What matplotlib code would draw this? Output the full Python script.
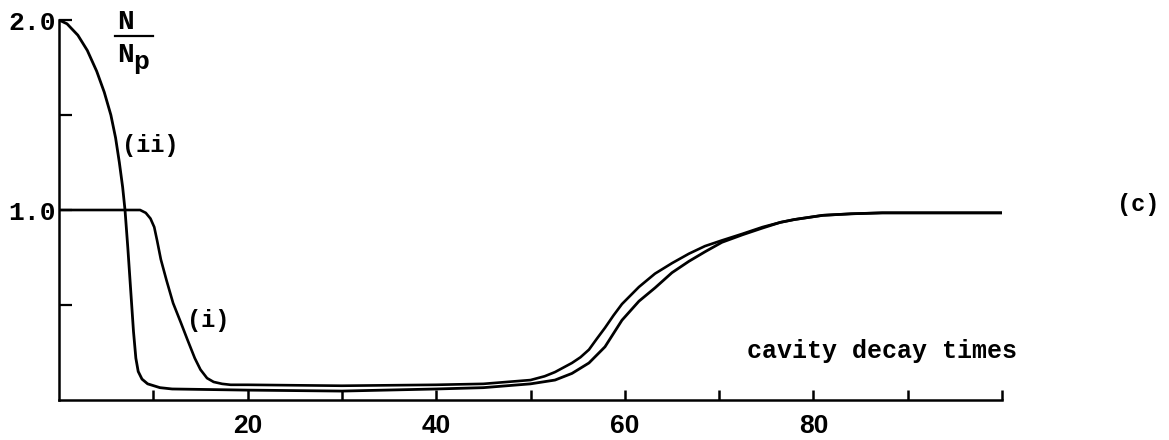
import matplotlib
matplotlib.use('Agg')
import matplotlib.pyplot as plt
from matplotlib.lines import Line2D

# curve (i): starts at steady state 1.0
t_i = [0, 8.6, 9.2, 9.7, 10.1, 10.4, 10.8, 11.4, 12.1, 12.9, 13.6, 14.4, 15.0, 15.7, 16.4, 17.3, 18.2,
       20, 30, 40, 45, 50, 51.5, 52.6, 54.4, 55.3, 56.2, 57.0, 57.9, 58.8, 59.7, 60.6, 61.5, 63.2, 65.0,
       66.8, 68.5, 70.3, 72.5, 74.6, 76.5, 78, 81, 84, 87.3, 100]
n_i = [1.0, 1.0, 0.985, 0.955, 0.91, 0.84, 0.74, 0.63, 0.51, 0.41, 0.32, 0.22, 0.16, 0.115, 0.095, 0.085, 0.08,
       0.08, 0.075, 0.08, 0.085, 0.105, 0.125, 0.147, 0.195, 0.225, 0.265, 0.32, 0.38, 0.445, 0.505, 0.55, 0.595,
       0.665, 0.72, 0.77, 0.81, 0.84, 0.875, 0.91, 0.935, 0.95, 0.972, 0.98, 0.985, 0.985]

# curve (ii): starts at 2.0
t_ii = [0, 0.85, 2.0, 3.0, 4.0, 4.8, 5.5, 6.0, 6.4, 6.75, 7.0, 7.3, 7.6, 7.9, 8.15, 8.4, 8.8, 9.4, 10.7, 12,
        20, 30, 40, 45, 50, 52.6, 54.4, 56.2, 57.9, 58.8, 59.7, 61.5, 63.2, 65.0, 66.8, 68.5,
        70.3, 72.5, 74.6, 76.5, 78, 81, 84, 87.3, 100]
n_ii = [2.0, 1.98, 1.92, 1.84, 1.73, 1.62, 1.50, 1.38, 1.25, 1.12, 1.0, 0.8, 0.58, 0.36, 0.22, 0.15, 0.11, 0.085,
        0.065, 0.058, 0.052, 0.047, 0.058, 0.065, 0.085, 0.105, 0.14, 0.195, 0.28, 0.35, 0.42, 0.52, 0.59, 0.67,
        0.73, 0.78, 0.83, 0.87, 0.905, 0.935, 0.95, 0.972, 0.98, 0.985, 0.985]

x_ticks = [10, 20, 30, 40, 50, 60, 70, 80, 90, 100]
x_ticklabels = ['', '20', '', '40', '', '60', '', '80', '', '']
y_ticks = [0.5, 1.0, 1.5, 2.0]
y_ticklabels = ['', '1.0', '', '2.0']

mono = 'Liberation Mono'
W, H = 1169, 440

fig = plt.figure(figsize=(W / 100, H / 100), dpi=100)
ax = fig.add_axes([59 / W, 40 / H, (1002 - 59) / W, 380 / H])

ax.plot(t_i, n_i, color='black', lw=1.9, solid_joinstyle='round')
ax.plot(t_ii, n_ii, color='black', lw=2.0, solid_joinstyle='round')

ax.set_xlim(0, 100)
ax.set_ylim(0, 2.0)
for s in ['top', 'right']:
    ax.spines[s].set_visible(False)
for s in ['left', 'bottom']:
    ax.spines[s].set_linewidth(1.8)

ax.set_xticks(x_ticks)
ax.set_xticklabels(x_ticklabels, fontfamily='Liberation Sans', fontweight='bold', fontsize=19)
ax.set_yticks(y_ticks)
ax.set_yticklabels(y_ticklabels, fontfamily=mono, fontweight='bold', fontsize=19)
ax.tick_params(axis='x', direction='in', length=7, width=1.8, pad=10)
ax.tick_params(axis='y', direction='in', length=9, width=1.6, pad=2)

# labels on the curves
ax.text(9.65, 1.34, '(ii)', fontfamily=mono, fontweight='bold', fontsize=17, ha='center', va='center')
ax.text(15.8, 0.42, '(i)', fontfamily=mono, fontweight='bold', fontsize=17, ha='center', va='center')
ax.text(73.0, 0.26, 'cavity decay times', fontfamily=mono, fontweight='bold', fontsize=18,
        ha='left', va='center')
ax.text(114.4, 1.03, '(c)', fontfamily=mono, fontweight='bold', fontsize=17, ha='center', va='center',
        clip_on=False)

# y label N / N_p as a stacked fraction
fig.text(125 / W, 1 - 29 / H, 'N', fontfamily=mono, fontweight='bold', fontsize=20, ha='center', va='baseline')
fig.add_artist(Line2D([115 / W, 153 / W], [1 - 36.5 / H, 1 - 36.5 / H], color='black', lw=1.6))
fig.text(125 / W, 1 - 62 / H, 'N', fontfamily=mono, fontweight='bold', fontsize=20, ha='center', va='baseline')
fig.text(141 / W, 1 - 69 / H, 'p', fontfamily=mono, fontweight='bold', fontsize=19, ha='center', va='baseline')

fig.savefig('out.png', dpi=100)
